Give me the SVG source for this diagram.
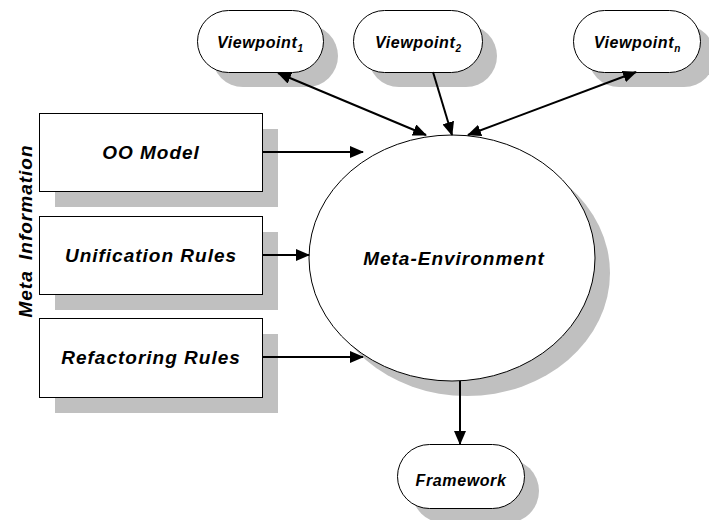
<svg xmlns="http://www.w3.org/2000/svg" width="709" height="520" viewBox="0 0 709 520">
  <defs>
    <style>
      .shadow { fill: #c0c0c0; stroke: none; }
      .node { fill: #ffffff; stroke: #000000; stroke-width: 1; }
      .lbl { font-family: "Liberation Sans", Arial, sans-serif; font-weight: bold; font-style: italic; fill: #000000; text-anchor: middle; }
      .big { font-size: 19px; letter-spacing: 1px; }
      .small { font-size: 16px; letter-spacing: 0.6px; }
      .sub { font-size: 10px; letter-spacing: 0; }
      .conn { stroke: #000000; stroke-width: 2; fill: none; }
    </style>
    <marker id="arrow" markerUnits="userSpaceOnUse" markerWidth="14" markerHeight="12" refX="13" refY="6" orient="auto-start-reverse">
      <path d="M0,0 L14,6 L0,12 z" fill="#000000"/>
    </marker>
  </defs>

  <rect width="709" height="520" fill="#ffffff"/>

  <!-- side caption -->
  <text class="lbl big" transform="translate(32,231) rotate(-90)" word-spacing="4">Meta Information</text>

  <!-- input boxes -->
  <g id="oo-model">
    <rect class="shadow" x="55" y="129" width="223" height="78"/>
    <rect class="node" x="39.5" y="113.5" width="223" height="78"/>
    <text class="lbl big" x="151" y="159">OO Model</text>
  </g>
  <g id="unification-rules">
    <rect class="shadow" x="55" y="232" width="223" height="78"/>
    <rect class="node" x="39.5" y="216.5" width="223" height="78"/>
    <text class="lbl big" x="151" y="262">Unification Rules</text>
  </g>
  <g id="refactoring-rules">
    <rect class="shadow" x="55" y="334" width="223" height="79"/>
    <rect class="node" x="39.5" y="318.5" width="223" height="79"/>
    <text class="lbl big" x="151" y="364">Refactoring Rules</text>
  </g>

  <!-- central environment -->
  <g id="meta-environment">
    <ellipse class="shadow" cx="467" cy="273" rx="143" ry="123"/>
    <ellipse class="node" cx="452" cy="258" rx="143" ry="123"/>
    <text class="lbl big" x="454" y="265">Meta-Environment</text>
  </g>

  <!-- viewpoints -->
  <g id="viewpoint-1">
    <rect class="shadow" x="212" y="25" width="126" height="62" rx="31" ry="31"/>
    <rect class="node" x="197.5" y="10.5" width="126" height="62" rx="31" ry="31"/>
    <text class="lbl small" x="260" y="48">Viewpoint<tspan class="sub" dy="4">1</tspan></text>
  </g>
  <g id="viewpoint-2">
    <rect class="shadow" x="368" y="25" width="129" height="62" rx="31" ry="31"/>
    <rect class="node" x="353.5" y="10.5" width="129" height="62" rx="31" ry="31"/>
    <text class="lbl small" x="418" y="48">Viewpoint<tspan class="sub" dy="4">2</tspan></text>
  </g>
  <g id="viewpoint-n">
    <rect class="shadow" x="588" y="25" width="127" height="62" rx="31" ry="31"/>
    <rect class="node" x="573.5" y="10.5" width="127" height="62" rx="31" ry="31"/>
    <text class="lbl small" x="637" y="48">Viewpoint<tspan class="sub" dy="4">n</tspan></text>
  </g>

  <!-- output -->
  <g id="framework">
    <rect class="shadow" x="412" y="459" width="127" height="64" rx="32" ry="32"/>
    <rect class="node" x="397.5" y="444.5" width="127" height="64" rx="32" ry="32"/>
    <text class="lbl small" x="461" y="486" letter-spacing="1">Framework</text>
  </g>

  <!-- connectors, drawn over the shadows -->
  <g id="connectors">
    <line class="conn" x1="262" y1="152" x2="363" y2="152" marker-end="url(#arrow)"/>
    <line class="conn" x1="262" y1="255" x2="309" y2="255" marker-end="url(#arrow)"/>
    <line class="conn" x1="262" y1="357" x2="363" y2="357" marker-end="url(#arrow)"/>
    <line class="conn" x1="278" y1="73" x2="426" y2="135" marker-start="url(#arrow)" marker-end="url(#arrow)"/>
    <line class="conn" x1="433" y1="72" x2="452" y2="135" marker-end="url(#arrow)"/>
    <line class="conn" x1="636" y1="72" x2="468" y2="135" marker-start="url(#arrow)" marker-end="url(#arrow)"/>
    <line class="conn" x1="460" y1="381" x2="460" y2="444" marker-end="url(#arrow)"/>
  </g>
</svg>
